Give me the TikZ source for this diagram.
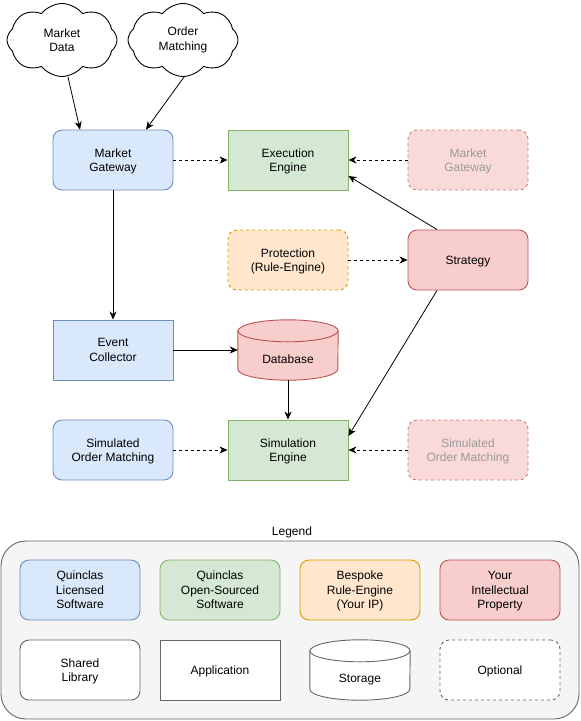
\documentclass[tikz,border=0pt]{standalone}
\usepackage{fontspec}
\setmainfont{Liberation Sans}
\usetikzlibrary{shapes.geometric,shapes.symbols,arrows.meta,calc,backgrounds}
\definecolor{bluefill}{HTML}{DAE8FC}\definecolor{bluedraw}{HTML}{6C8EBF}
\definecolor{greenfill}{HTML}{D5E8D4}\definecolor{greendraw}{HTML}{82B366}
\definecolor{orangefill}{HTML}{FFE6CC}\definecolor{orangedraw}{HTML}{D79B00}
\definecolor{redfill}{HTML}{F8CECC}\definecolor{reddraw}{HTML}{B85450}
\definecolor{fadefill}{HTML}{FADAD9}\definecolor{fadedraw}{HTML}{CA7F7C}
\definecolor{fadetext}{HTML}{999999}
\definecolor{legfill}{HTML}{F5F5F5}\definecolor{legdraw}{HTML}{666666}
\begin{document}
\begin{tikzpicture}[x=1pt,y=-1pt,
  every node/.style={font=\fontsize{12}{14.5}\selectfont, align=center, inner sep=0pt},
  box/.style={draw, line width=0.9pt, minimum width=120pt, minimum height=60pt,
    text depth=-2pt},
  rbox/.style={box, rounded corners=9pt},
  blue/.style={fill=bluefill, draw=bluedraw},
  green/.style={fill=greenfill, draw=greendraw},
  orange/.style={fill=orangefill, draw=orangedraw},
  red/.style={fill=redfill, draw=reddraw},
  fade/.style={rbox, fill=fadefill, draw=fadedraw, text=fadetext, dash pattern=on 3pt off 3pt},
  dsh/.style={dash pattern=on 3pt off 3pt},
  cloudy/.style={cloud, cloud puffs=8, cloud puff arc=105, aspect=1.45, draw, fill=white, line width=0.9pt, minimum width=110pt, minimum height=73pt},
  drumnode/.style={minimum width=100pt, minimum height=60pt, execute at begin node={\rule{0pt}{28pt}}},
  drumline/.style={line width=0.9pt},
  arr/.style={-{Stealth[length=8pt,width=7pt,inset=2.5pt]}, line width=0.8pt},
]
\useasboundingbox (0,0) rectangle (581,721);

% top clouds
\node[cloudy] (md) at (62,40) {Market\\Data};
\node[cloudy] (om) at (183,40) {Order\\Matching};

% main nodes
\node[rbox, blue] (mg) at (113,160) {Market\\Gateway};
\node[box, green] (exec) at (288,160) {Execution\\Engine};
\node[fade] (mg2) at (468,160) {Market\\Gateway};
\node[rbox, orange, dsh] (prot) at (288,260) {Protection\\(Rule-Engine)};
\node[rbox, red] (strat) at (468,260) {Strategy};
\node[box, blue] (ec) at (113,350) {Event\\Collector};
\node[drumnode] (db) at (288,350) {Database};
\node[rbox, blue] (som) at (113,450) {Simulated\\Order Matching};
\node[box, green] (sim) at (288,450) {Simulation\\Engine};
\node[fade] (som2) at (468,450) {Simulated\\Order Matching};

% legend
\node (legt) at (292,532) {Legend};
\begin{scope}[on background layer]
\node[draw=legdraw, fill=legfill, line width=0.9pt, rounded corners=25pt, minimum width=578pt, minimum height=178pt] (leg) at (290,630) {};
\end{scope}
\node[rbox, blue] (l1) at (80,590) {Quinclas\\Licensed\\Software};
\node[rbox, green] (l2) at (220,590) {Quinclas\\Open-Sourced\\Software};
\node[rbox, orange] (l3) at (360,590) {Bespoke\\Rule-Engine\\(Your IP)};
\node[rbox, red] (l4) at (500,590) {Your\\Intellectual\\Property};
\node[rbox, fill=white, draw=legdraw] (l5) at (80,670) {Shared\\Library};
\node[box, fill=white, draw=legdraw] (l6) at (220,670) {Application};
\node[drumnode] (l7) at (360,670) {Storage};
\node[rbox, fill=white, draw=legdraw, dsh] (l8) at (500,670) {Optional};

% cylinders (drawn under their labels)
\begin{scope}[on background layer]
\foreach \n/\f/\d in {db/redfill/reddraw, l7/white/legdraw}{
  \path[drumline, fill=\f, draw=\d] ([yshift=-11pt]\n.north west) -- ([yshift=11pt]\n.south west)
     arc[start angle=180, end angle=360, x radius=50pt, y radius=11pt]
     -- ([yshift=-11pt]\n.north east)
     arc[start angle=0, end angle=180, x radius=50pt, y radius=11pt] -- cycle;
  \draw[drumline, draw=\d] ([yshift=-11pt]\n.north west)
     arc[start angle=180, end angle=360, x radius=50pt, y radius=11pt];
}
\end{scope}

% connectors
\coordinate (mdout) at (68,77);
\coordinate (omout) at (184,77);
\draw[arr] (mdout) -- ([xshift=-33pt]mg.north);
\draw[arr] (omout) -- ([xshift=33pt]mg.north);
\draw[arr, dsh] (mg) -- (exec);
\draw[arr, dsh] (mg2) -- (exec);
\draw[arr] ([xshift=-31pt]strat.north) -- ([yshift=-16pt]exec.east);
\draw[arr, dsh] (prot) -- (strat);
\draw[arr] (mg) -- (ec);
\draw[arr] (ec.east) -- (db.west);
\draw[arr] (db.south) -- (sim.north);
\draw[arr] ([xshift=-31pt]strat.south) -- ([yshift=14pt]sim.east);
\draw[arr, dsh] (som) -- (sim);
\draw[arr, dsh] (som2) -- (sim);
\end{tikzpicture}
\end{document}
